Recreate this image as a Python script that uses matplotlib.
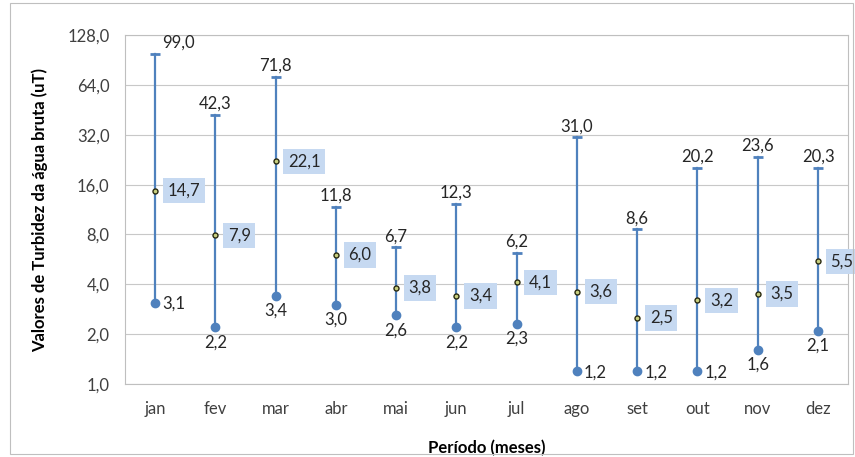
# turbidez da agua bruta - min / media / max por mes
import matplotlib
matplotlib.use("Agg")
import matplotlib.pyplot as plt
from matplotlib.patches import Rectangle
from matplotlib.ticker import FixedLocator, FuncFormatter, NullLocator

plt.rcParams['font.family'] = ['Lato', 'DejaVu Sans']

# data
meses = ["jan", "fev", "mar", "abr", "mai", "jun", "jul", "ago", "set", "out", "nov", "dez"]
maximo = [99.0, 42.3, 71.8, 11.8, 6.7, 12.3, 6.2, 31.0, 8.6, 20.2, 23.6, 20.3]
minimo = [3.1, 2.2, 3.4, 3.0, 2.6, 2.2, 2.3, 1.2, 1.2, 1.2, 1.6, 2.1]
media = [14.7, 7.9, 22.1, 6.0, 3.8, 3.4, 4.1, 3.6, 2.5, 3.2, 3.5, 5.5]
yticks = [1, 2, 4, 8, 16, 32, 64, 128]
# where the min label sits: right of the dot or below it
min_lado = ["r", "b", "b", "b", "b", "b", "b", "r", "r", "r", "b", "b"]

azul = "#4F81BD"
caixa = "#C6D9F1"
grade = "#C8C8C8"
fs = 12

fig = plt.figure(figsize=(8.55, 4.57), dpi=100)
ax = fig.add_axes([0.146, 0.16, 0.846, 0.763])

# outer chart frame
fig.patches.append(Rectangle((10 / 855, 3 / 457), 843 / 855, 451 / 457, transform=fig.transFigure,
                             fill=False, edgecolor="#BFBFBF", lw=0.8))

x = list(range(len(meses)))
for i in x:
    ax.plot([i, i], [minimo[i], maximo[i]], color=azul, lw=1.6, zorder=3)
ax.plot(x, maximo, ls="none", marker="_", ms=7, mew=2, color=azul, zorder=4)
ax.plot(x, minimo, ls="none", marker="o", ms=6, color=azul, zorder=4)
ax.plot(x, media, ls="none", marker="o", ms=3.6, mfc="#C8D080", mec="#2A2A10", mew=1.0, zorder=5)

fmt = lambda v: ("%.1f" % v).replace(".", ",")

for i in x:
    # max label
    if i == 0:
        ax.annotate(fmt(maximo[i]), (i, maximo[i]), xytext=(5, 2), textcoords="offset points",
                    ha="left", va="bottom", fontsize=fs, color="#262626")
    else:
        ax.annotate(fmt(maximo[i]), (i, maximo[i]), xytext=(0, 2), textcoords="offset points",
                    ha="center", va="bottom", fontsize=fs, color="#262626")
    # min label
    if min_lado[i] == "r":
        ax.annotate(fmt(minimo[i]), (i, minimo[i]), xytext=(5, -1), textcoords="offset points",
                    ha="left", va="center", fontsize=fs, color="#262626")
    else:
        ax.annotate(fmt(minimo[i]), (i, minimo[i]), xytext=(0, -5), textcoords="offset points",
                    ha="center", va="top", fontsize=fs, color="#262626")
    # mean label in a box
    ax.annotate(fmt(media[i]), (i, media[i]), xytext=(9, 0), textcoords="offset points",
                ha="left", va="center", fontsize=fs, color="#262626",
                bbox=dict(boxstyle="square,pad=0.28", fc=caixa, ec="none"))

ax.set_yscale("log", base=2)
ax.set_ylim(1, 128)
ax.set_xlim(-0.5, len(meses) - 0.5)
ax.yaxis.set_major_locator(FixedLocator(yticks))
ax.yaxis.set_minor_locator(NullLocator())
ax.yaxis.set_major_formatter(FuncFormatter(lambda v, p: fmt(v)))
ax.set_xticks(x)
ax.set_xticklabels(meses)
ax.tick_params(axis="both", length=0, labelsize=fs, labelcolor="#404040")
ax.tick_params(axis="y", pad=11)
ax.tick_params(axis="x", pad=12)
ax.grid(axis="y", color=grade, lw=0.8)
ax.set_axisbelow(True)
for s in ax.spines.values():
    s.set_color("#BFBFBF")
    s.set_linewidth(0.8)

ax.set_ylabel("Valores de Turbidez da água bruta (uT)", fontsize=fs, fontweight="bold", labelpad=14)
ax.set_xlabel("Período (meses)", fontsize=fs, fontweight="bold", labelpad=17)

fig.savefig("out.png", dpi=100)
